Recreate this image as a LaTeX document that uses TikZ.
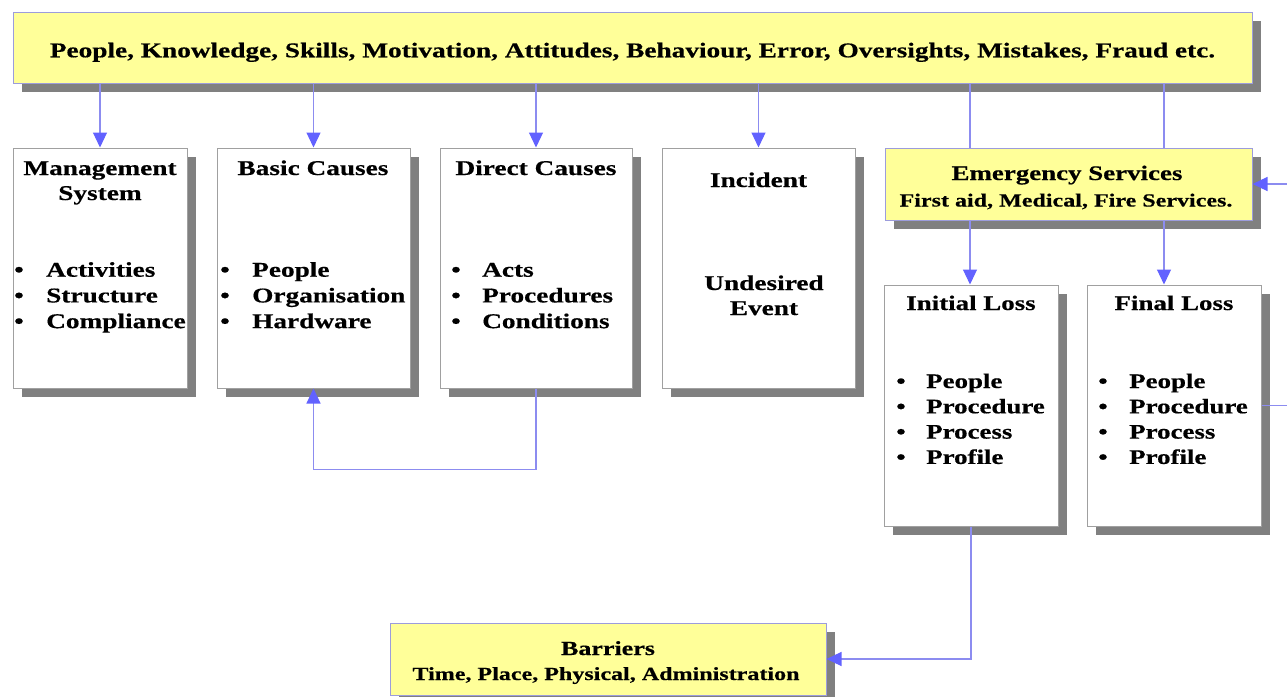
\documentclass[tikz,border=0pt]{standalone}
\usepackage{fontspec}
\setmainfont[FakeStretch=1.3,BoldFeatures={FakeBold=0.5}]{Liberation Serif}
\usetikzlibrary{arrows.meta,shadows}
\definecolor{yfill}{HTML}{FFFF99}
\definecolor{yborder}{HTML}{9C9CDC}
\definecolor{wborder}{HTML}{A0A0A0}
\definecolor{shgray}{HTML}{808080}
\definecolor{lineblue}{HTML}{8C8CF0}
\definecolor{arrowblue}{HTML}{6262FF}
\begin{document}
\begin{tikzpicture}[x=1pt,y=-1pt,
  shad/.style={drop shadow={shadow xshift=9pt,shadow yshift=-9pt,fill=shgray,opacity=1}},
  ybox/.style={draw=yborder,fill=yfill,line width=1pt,inner sep=0,shad},
  wbox/.style={draw=wborder,fill=white,line width=1pt,inner sep=0,shad},
  txt/.style={anchor=base,inner sep=0,font=\bfseries\fontsize{21}{25}\selectfont},
  stxt/.style={txt,font=\bfseries\fontsize{18.5}{22}\selectfont},
  mtxt/.style={txt,font=\bfseries\fontsize{20.7}{24}\selectfont},
  conn/.style={draw=lineblue,line width=1.2pt},
  arr/.style={conn,-{Triangle[length=15pt,width=14pt,color=arrowblue,fill=arrowblue]}},
]
\useasboundingbox (0,0) rectangle (1287,696);
\clip (0,0) rectangle (1287,696);

% boxes
\node[ybox,minimum width=1239pt,minimum height=71pt] (top) at (632.5,47.5) {};
\node[wbox,minimum width=174pt,minimum height=240pt] (mgmt) at (100,268) {};
\node[wbox,minimum width=193pt,minimum height=240pt] (basic) at (313.5,268) {};
\node[wbox,minimum width=192pt,minimum height=240pt] (direct) at (536,268) {};
\node[wbox,minimum width=193pt,minimum height=240pt] (incid) at (758.5,268) {};
\node[ybox,minimum width=367pt,minimum height=72pt] (emerg) at (1068.5,184) {};
\node[wbox,minimum width=174pt,minimum height=241pt] (init) at (971,405.5) {};
\node[wbox,minimum width=174pt,minimum height=241pt] (final) at (1174,405.5) {};
\node[ybox,minimum width=436pt,minimum height=72pt] (barr) at (608,659) {};

% texts
\node[txt] (ttop) at (632.5,57.3) {People, Knowledge, Skills, Motivation, Attitudes, Behaviour, Error, Oversights, Mistakes, Fraud etc.};

\node[txt] (mh1) at (100,175) {Management};
\node[txt] (mh2) at (100,200) {System};
\foreach \t [count=\i] in {Activities,Structure,Compliance}{
  \node[txt] (mbb\i) at (19,{276.7+(\i-1)*25.7}) {•};
  \node[txt,anchor=base west] (mb\i) at (46,{276.7+(\i-1)*25.7}) {\t};
}

\node[txt] (bh) at (313,175) {Basic Causes};
\foreach \t [count=\i] in {People,Organisation,Hardware}{
  \node[txt] (bbb\i) at (225,{276.7+(\i-1)*25.7}) {•};
  \node[txt,anchor=base west] (bb\i) at (252,{276.7+(\i-1)*25.7}) {\t};
}

\node[txt] (dh) at (536,175) {Direct Causes};
\foreach \t [count=\i] in {Acts,Procedures,Conditions}{
  \node[txt] (dbb\i) at (456,{276.7+(\i-1)*25.7}) {•};
  \node[txt,anchor=base west] (db\i) at (482,{276.7+(\i-1)*25.7}) {\t};
}

\node[txt] (ih) at (758.5,187) {Incident};
\node[txt] (ib1) at (764,290) {Undesired};
\node[txt] (ib2) at (764,315) {Event};

\node[mtxt] (eh) at (1067,180) {Emergency Services};
\node[stxt] (es) at (1066,206.5) {First aid, Medical, Fire Services.};

\node[mtxt] (inh) at (971,310) {Initial Loss};
\node[mtxt] (fh) at (1174,310) {Final Loss};
\foreach \t [count=\i] in {People,Procedure,Process,Profile}{
  \node[mtxt] (ibb\i) at (901,{388+(\i-1)*25.3}) {•};
  \node[mtxt,anchor=base west] (inb\i) at (926,{388+(\i-1)*25.3}) {\t};
  \node[mtxt] (fbb\i) at (1103,{388+(\i-1)*25.3}) {•};
  \node[mtxt,anchor=base west] (fb\i) at (1129,{388+(\i-1)*25.3}) {\t};
}

\node[stxt,font=\bfseries\fontsize{20}{24}\selectfont] (bah) at (608,655) {Barriers};
\node[stxt] (bas) at (606,680) {Time, Place, Physical, Administration};

% connectors
\coordinate (e1) at (970,0);
\coordinate (e2) at (1164,0);
\coordinate (r1) at (1300,0);
\draw[arr] (top.south -| mgmt.north) -- (mgmt.north);
\draw[arr] (top.south -| basic.north) -- (basic.north);
\draw[arr] (top.south -| direct.north) -- (direct.north);
\draw[arr] (top.south -| incid.north) -- (incid.north);
\draw[conn] (top.south -| e1) -- (emerg.north -| e1);
\draw[conn] (top.south -| e2) -- (emerg.north -| e2);
\draw[arr] (emerg.south -| e1) -- (init.north -| e1);
\draw[arr] (emerg.south -| e2) -- (final.north -| e2);
\draw[arr] (direct.south) -- ++(0,81) -| (basic.south);
\draw[arr] (init.south) |- (barr.east);
\draw[arr] (final.east) -- (final.east -| r1) |- (emerg.east);
\end{tikzpicture}
\end{document}
